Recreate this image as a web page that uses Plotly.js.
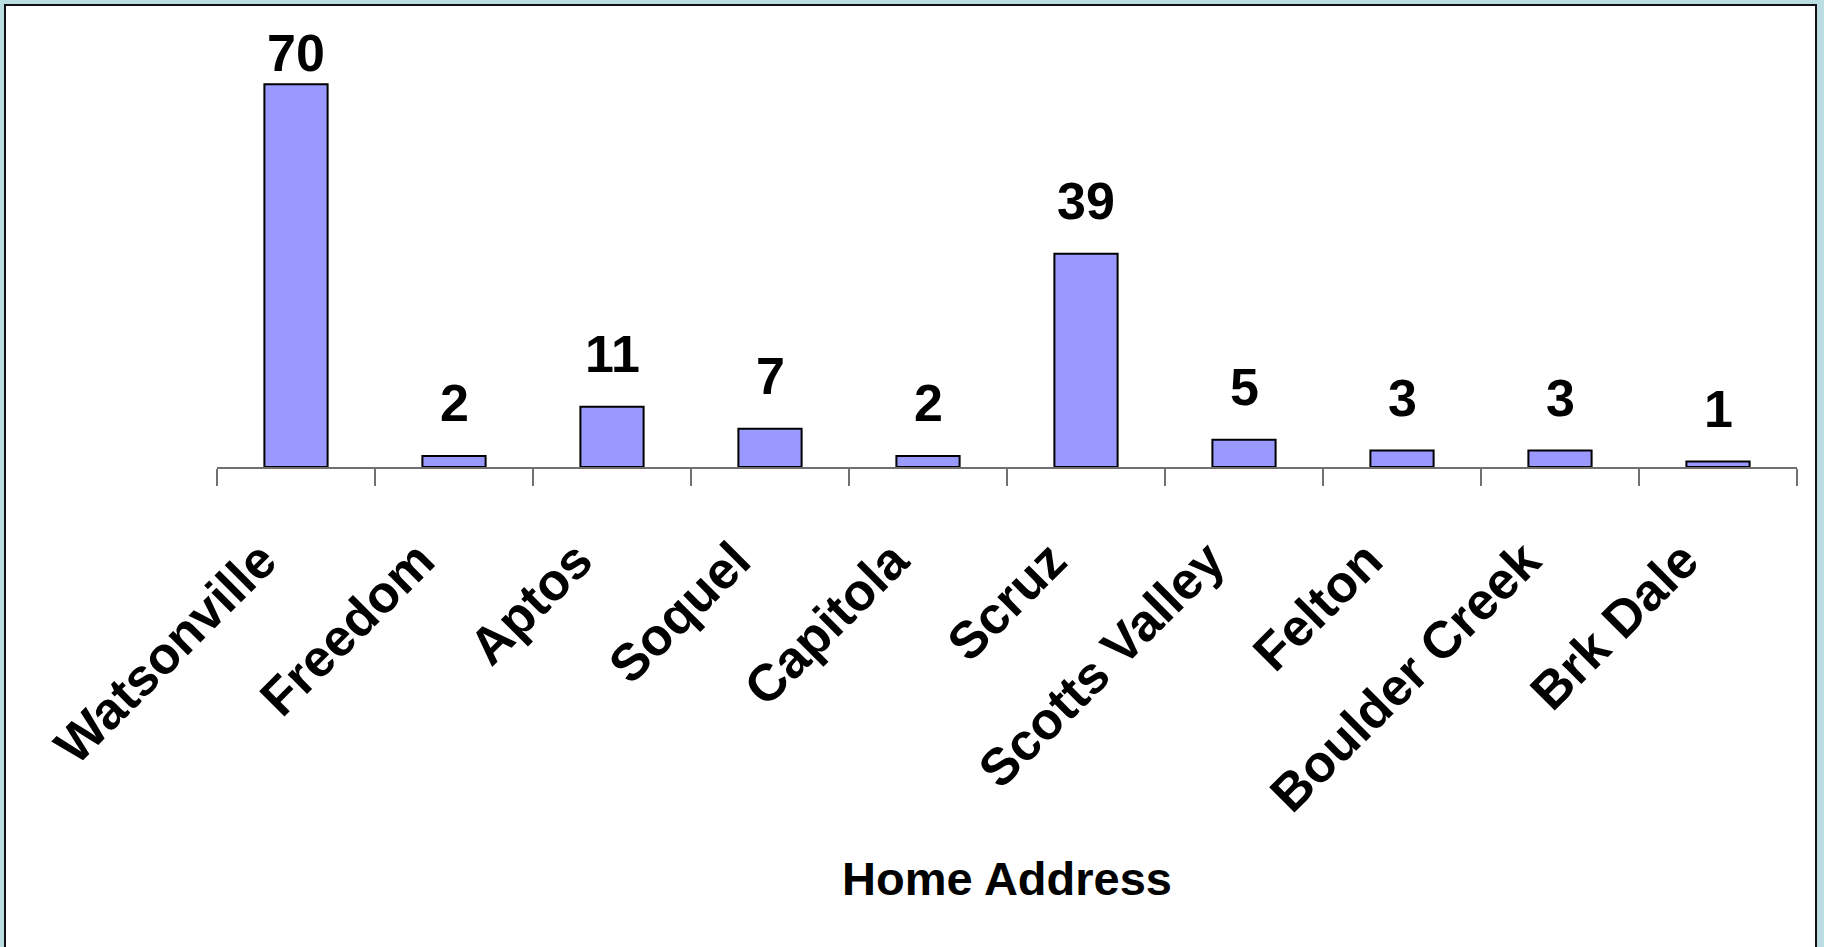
<!DOCTYPE html>
<html>
<head>
<meta charset="utf-8">
<script src="https://cdn.plot.ly/plotly-3.0.1.min.js"></script>
<style>
  html, body { margin: 0; padding: 0; width: 1824px; height: 947px; overflow: hidden; background: #b9dde0; }
  #frame { position: absolute; left: 4px; top: 4px; width: 1809px; height: 945px; border: 2px solid #111; border-bottom: none; background: #fff; }
  #chart { width: 1809px; height: 945px; }
</style>
</head>
<body>
<div id="frame"><div id="chart"></div></div>
<script>
const categories = ["Watsonville", "Freedom", "Aptos", "Soquel", "Capitola", "Scruz", "Scotts Valley", "Felton", "Boulder Creek", "Brk Dale"];
const counts = [70, 2, 11, 7, 2, 39, 5, 3, 3, 1];
const xTitle = "Home Address";

const fontFamily = "Liberation Sans, Arial, Helvetica, sans-serif";

const W = 1809, H = 945;
const margin = { l: 210.7, r: 18.3, t: 51, b: 484.3, pad: 0 };
const yMax = 75;
const plotH = H - margin.t - margin.b;
const pxPerUnit = plotH / yMax;

const trace = {
  type: "bar",
  x: categories,
  y: counts,
  marker: { color: "#9999ff", line: { color: "#000000", width: 2 } },
  hoverinfo: "x+y"
};

// Labels sit above bars, but are kept inside the chart area near the top.
const labelGap = 22, labelTopLimit = 78;
const annotations = categories.map((c, i) => {
  const barTop = margin.t + (yMax - counts[i]) * pxPerUnit;
  const shift = Math.min(labelGap, Math.max(0, barTop - labelTopLimit));
  return {
    x: c, y: counts[i], xref: "x", yref: "y",
    text: String(counts[i]),
    showarrow: false,
    yanchor: "bottom",
    yshift: shift,
    font: { family: fontFamily, size: 52, color: "#000", weight: "bold" }
  };
});

const layout = {
  width: W, height: H,
  margin: margin,
  paper_bgcolor: "#ffffff",
  plot_bgcolor: "#ffffff",
  showlegend: false,
  bargap: 0.6,
  font: { family: fontFamily, color: "#000" },
  xaxis: {
    type: "category",
    tickson: "boundaries",
    ticks: "outside",
    ticklen: 17,
    tickwidth: 2,
    tickcolor: "#707070",
    showline: true,
    linecolor: "#707070",
    linewidth: 2,
    showgrid: false,
    zeroline: false,
    tickangle: -45,
    ticklabelstandoff: 40,
    ticklabelshift: -35,
    tickfont: { family: fontFamily, size: 52, color: "#000", weight: "bold" },
    title: { text: xTitle, font: { family: fontFamily, size: 47, color: "#000", weight: "bold" }, standoff: 40 },
    automargin: false
  },
  yaxis: {
    visible: false,
    range: [0, yMax],
    showgrid: false,
    zeroline: false
  },
  annotations: annotations
};

Plotly.newPlot("chart", [trace], layout, { displayModeBar: false, staticPlot: true });
</script>
</body>
</html>
